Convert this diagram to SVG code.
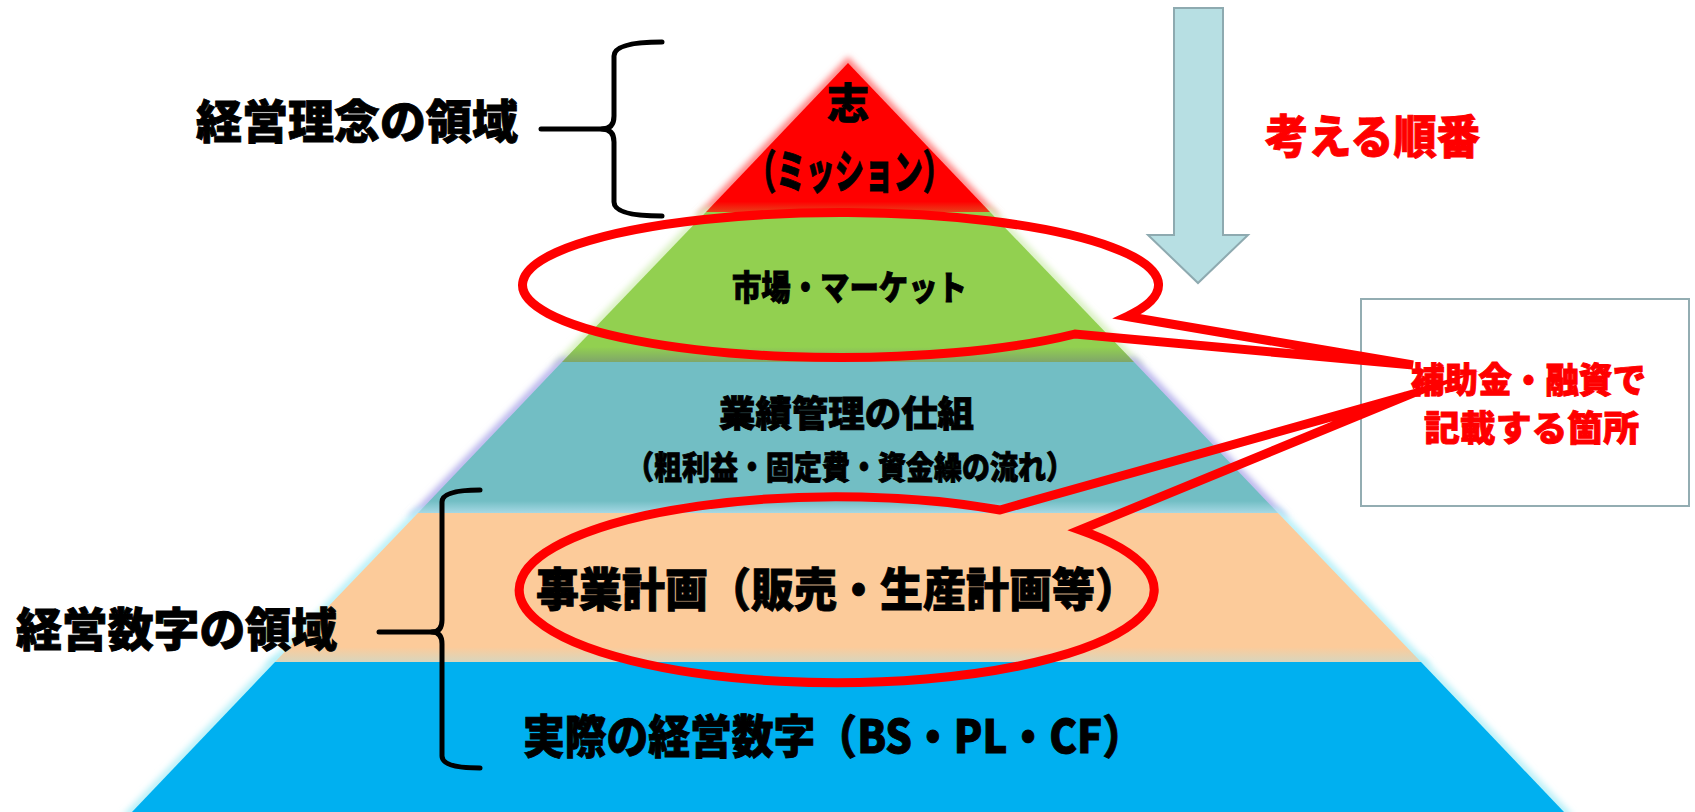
<svg xmlns="http://www.w3.org/2000/svg" width="1695" height="812" viewBox="0 0 1695 812">
<style>
.t{font-family:"Noto Sans CJK JP","Noto Sans",sans-serif;font-weight:900;fill:#000;stroke:#000;stroke-width:0.9}
.r{fill:#FF0000;stroke:#FF0000}
.brace{fill:none;stroke:#000;stroke-width:5;stroke-linecap:round;stroke-linejoin:round}
.callout{fill:none;stroke:#FF0000;stroke-width:9;stroke-linejoin:miter;stroke-miterlimit:20}
.glow{fill:none;stroke-width:9;filter:url(#blur)}
</style>
<defs>
<filter id="blur" x="-10%" y="-10%" width="120%" height="120%"><feGaussianBlur stdDeviation="3"/></filter>
<linearGradient id="gRed" x1="0" y1="0" x2="0" y2="1"><stop offset="0" stop-color="#FF0000"/><stop offset="0.93" stop-color="#FF0000"/><stop offset="1" stop-color="#E8401A"/></linearGradient>
<linearGradient id="gGreen" x1="0" y1="0" x2="0" y2="1"><stop offset="0" stop-color="#92D050"/><stop offset="0.9" stop-color="#92D050"/><stop offset="1" stop-color="#7FA66A"/></linearGradient>
<linearGradient id="gTeal" x1="0" y1="0" x2="0" y2="1"><stop offset="0" stop-color="#72BEC4"/><stop offset="0.92" stop-color="#72BEC4"/><stop offset="1" stop-color="#A6D8E4"/></linearGradient>
<linearGradient id="gPeach" x1="0" y1="0" x2="0" y2="1"><stop offset="0" stop-color="#FCCB9A"/><stop offset="0.9" stop-color="#FCCB9A"/><stop offset="1" stop-color="#D8D6BE"/></linearGradient>
</defs>
<rect width="1695" height="812" fill="#FFFFFF"/>

<g id="note-box">
<rect x="1361" y="299" width="328" height="207" fill="#FFFFFF" stroke="#93ADB2" stroke-width="2"/>
</g>

<g id="order-arrow">
<path d="M1174,8 L1223,8 L1223,235 L1248,235 L1198,283 L1148,235 L1174,235 Z" fill="#B7DFE3" stroke="#8EAAB0" stroke-width="2"/>
</g>

<g id="pyramid-glow">
<polygon points="848,63 990,212 706,212" class="glow" stroke="#FF8080"/>
<polygon points="706,212 990,212 1134,362 562,362" class="glow" stroke="#D8F0C0"/>
<polygon points="562,362 1134,362 1278,513 418,513" class="glow" stroke="#B8B4EC"/>
<polygon points="418,513 1278,513 1421,662 275,662" class="glow" stroke="#B8F0F8"/>
<polygon points="275,662 1421,662 1564,812 132,812" class="glow" stroke="#B8F0F8"/>
</g>

<g id="layer-mission">
<polygon points="848,63 990,212 706,212" fill="url(#gRed)"/>
<text class="t" x="848" y="119" font-size="42" text-anchor="middle">志</text>
<text class="t" x="747" y="188" font-size="46" textLength="205" lengthAdjust="spacingAndGlyphs">（ミッション）</text>
</g>

<g id="layer-market">
<polygon points="706,212 990,212 1134,362 562,362" fill="url(#gGreen)"/>
<text class="t" x="732" y="300" font-size="34" textLength="235" lengthAdjust="spacingAndGlyphs">市場・マーケット</text>
</g>

<g id="layer-performance">
<polygon points="562,362 1134,362 1278,513 418,513" fill="url(#gTeal)"/>
<text class="t" x="719" y="427" font-size="36" textLength="255" lengthAdjust="spacingAndGlyphs">業績管理の仕組</text>
<text class="t" x="626" y="479" font-size="32" textLength="448" lengthAdjust="spacingAndGlyphs">（粗利益・固定費・資金繰の流れ）</text>
</g>

<g id="layer-plan">
<polygon points="418,513 1278,513 1421,662 275,662" fill="url(#gPeach)"/>
<text class="t" x="536" y="606" font-size="46" textLength="602" lengthAdjust="spacingAndGlyphs">事業計画（販売・生産計画等）</text>
</g>

<g id="layer-actual">
<polygon points="275,662 1421,662 1564,812 132,812" fill="#00B0F0"/>
<text class="t" x="523" y="753" font-size="46" textLength="621" lengthAdjust="spacingAndGlyphs">実際の経営数字（BS・PL・CF）</text>
</g>

<g id="label-philosophy">
<text class="t" x="196" y="138" font-size="46" textLength="322" lengthAdjust="spacingAndGlyphs">経営理念の領域</text>
<path class="brace" d="M662,42 Q614,42 614,56 L614,116 Q614,129 602,129 Q614,129 614,142 L614,202 Q614,216 662,216"/>
<line class="brace" x1="541" y1="129" x2="604" y2="129"/>
</g>

<g id="label-numbers">
<text class="t" x="16" y="646" font-size="46" textLength="321" lengthAdjust="spacingAndGlyphs">経営数字の領域</text>
<path class="brace" d="M480,490 Q442,490 442,502 L442,620 Q442,632 432,632 Q442,632 442,644 L442,756 Q442,768 480,768"/>
<line class="brace" x1="379" y1="632" x2="434" y2="632"/>
</g>

<g id="label-order">
<text class="t r" x="1265" y="153" font-size="46" textLength="215" lengthAdjust="spacingAndGlyphs">考える順番</text>
</g>

<g id="connectors">
<path class="callout" d="M1127,316.5 L1413,365 L1075,334 A318,72.5 0 1 1 1127,316.5 Z"/>
<path class="callout" d="M1000,510 L1406,396 L1080,530 A317.5,93 0 1 1 1000,510 Z"/>
</g>

<g id="note-text">
<text class="t r" x="1411" y="393" font-size="35" textLength="235" lengthAdjust="spacingAndGlyphs">補助金・融資で</text>
<text class="t r" x="1424" y="441" font-size="35" textLength="215" lengthAdjust="spacingAndGlyphs">記載する箇所</text>
</g>
</svg>
